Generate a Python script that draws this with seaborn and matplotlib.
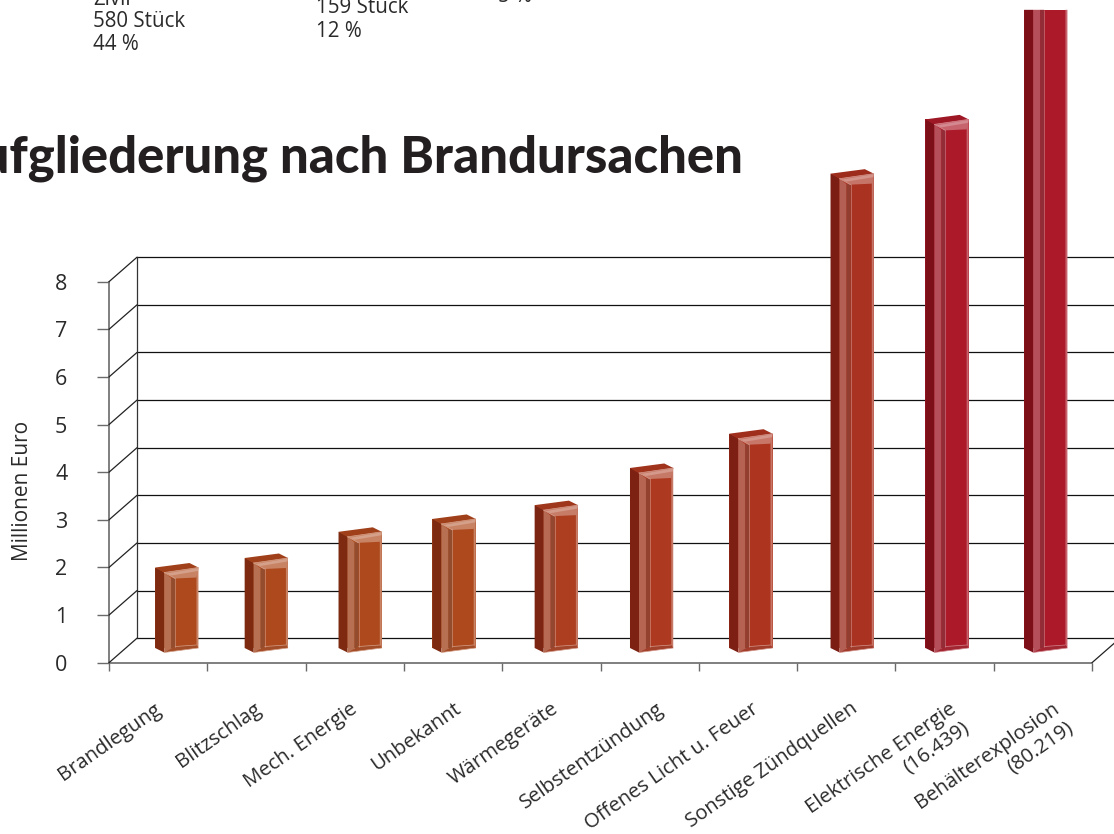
# -*- coding: utf-8 -*-
"""Schaeden nach Brandursachen: Saeulen mit 3D-Optik, Grundlage ist sns.barplot."""

import matplotlib

matplotlib.use("Agg")

import matplotlib.pyplot as plt
import numpy as np
import seaborn as sns
from matplotlib.colors import to_rgb
from matplotlib.lines import Line2D
from matplotlib.patches import Polygon
from matplotlib.transforms import IdentityTransform

# Daten
categories = [
    "Brandlegung",
    "Blitzschlag",
    "Mech. Energie",
    "Unbekannt",
    "Wärmegeräte",
    "Selbstentzündung",
    "Offenes Licht u. Feuer",
    "Sonstige Zündquellen",
    "Elektrische Energie\n(16.439)",
    "Behälterexplosion\n(80.219)",
]
schaden = [1.69, 1.89, 2.44, 2.71, 3.0, 3.78, 4.5, 9.96, 11.1, 13.4]
y_ticks = [0, 1, 2, 3, 4, 5, 6, 7, 8]
bar_colors = [
    "#AE491D", "#AE491D", "#AE491D", "#AE491D", "#AD3F20",
    "#AD3A20", "#AD3520", "#AA3220", "#AC1A29", "#AC1A29",
]
# Saeulen stehen im Original nicht genau mittig (Kategorie-Einheiten)
bar_shift = [0.19, 0.10, 0.055, 0.01, 0.05, 0.02, 0.03, 0.06, 0.025, 0.03]
label_shift = [-0.05, -0.03, -0.05, 0.0, -0.01, 0.07, 0.03, 0.04, 0.04, 0.09]

W, H = 1114, 834
DEPTH_X, DEPTH_Y = 28, 24.5
FONT = ["Open Sans", "DejaVu Sans"]
TEXT = "#2b2a2b"
AXIS = "#6a6a6a"


def mix(col, other, t):
    a, b = np.array(to_rgb(col)), np.array(to_rgb(other))
    return tuple(a * (1 - t) + b * t)


def px_axes(fig, left, base, width, height):
    """Axes aus Pixelangaben (Ursprung oben links im Bild)."""
    return fig.add_axes([left / W, (H - base) / H, width / W, height / H])


def poly(ax, pts, color, z=3):
    ax.add_patch(
        Polygon(
            [(x, H - y) for x, y in pts],
            closed=True,
            facecolor=color,
            edgecolor="none",
            transform=IdentityTransform(),
            clip_on=False,
            zorder=z,
        )
    )


def edge(ax, a, b, color, lw=0.6):
    ax.add_line(
        Line2D(
            [a[0], b[0]],
            [H - a[1], H - b[1]],
            color=color,
            lw=lw,
            transform=IdentityTransform(),
            clip_on=False,
            zorder=4,
        )
    )


def dress_bar(ax, patch, col, cut_top=False):
    """Seitenflaeche, Fase und Deckel um das Rechteck der Saeule legen."""
    (x0, y0), (x1, y1) = ax.transData.transform(
        [(patch.get_x(), 0), (patch.get_x() + patch.get_width(), patch.get_height())]
    )
    base, top = H - y0, H - y1
    xs = x0 + 9  # Kante dunkle Seite / Fase
    xf = x0 + 20  # Kante Fase / Front
    xr = x1 - 2

    dark = mix(col, "#3a0000", 0.42)
    roof = mix(col, "#3a0000", 0.12)
    bevel = mix(mix(col, "#ffffff", 0.2), "#808080", 0.12)
    bevel2 = mix(col, "#555555", 0.3)
    light = mix(col, "#ffffff", 0.32)
    cap = mix(col, "#ffffff", 0.32)
    cap2 = mix(col, "#ffffff", 0.48)
    line = mix(col, "#ffffff", 0.48)
    foot = mix(col, "#666666", 0.15)

    side_top = top if cut_top else top + 5
    front_top = top if cut_top else top + 10.5
    poly(ax, [(x0, top), (xs, side_top), (xs, base + 4.5), (x0, base)], dark)
    poly(ax, [(xs, side_top), (xf - 4, front_top), (xf - 4, base + 2), (xs, base + 4.5)], bevel)
    poly(ax, [(xf - 4, front_top), (xf, front_top), (xf, base), (xf - 4, base + 2)], bevel2)
    poly(ax, [(xr, top), (x1, top), (x1, base), (xr, base - 3)], light)
    edge(ax, (xf, front_top), (xf, base - 1), line, 0.4)
    poly(ax, [(xs, base + 4.5), (x1, base), (xr, base - 3), (xf, base - 1.5)], foot)
    edge(ax, (xf, base - 1.5), (xr, base - 3), line, 0.5)
    edge(ax, (xs, base + 4.5), (x1, base), line, 0.5)

    if cut_top:
        return
    poly(ax, [(x0, top), (x1 - 9, top - 4.5), (x1, top), (xs, top + 5)], roof)
    poly(ax, [(xs, top + 5), (x1, top), (xr, top + 10), (xf, top + 11)], cap)
    poly(ax, [(xs + 2, top + 6), (x1, top + 0.5), (x1 - 0.5, top + 3.5), (xs + 7, top + 8)], cap2)
    edge(ax, (xs, top + 5), (xf, top + 11), line)
    edge(ax, (xs, top + 5), (x1, top), line, 0.5)


sns.set_theme(style="white")
plt.rcParams["font.family"] = FONT

fig = plt.figure(figsize=(W / 100, H / 100), dpi=100, facecolor="white")

# Rueckwand mit Gitterlinien
back = px_axes(fig, 109 + DEPTH_X, 662.7 - DEPTH_Y, 983, 381)
back.set_xlim(-0.5, 9.5)
back.set_ylim(0, 8)
back.set_yticks(y_ticks)
back.set_xticks([])
back.tick_params(axis="y", length=0, labelleft=False)
back.grid(True, axis="y", color="#111111", lw=0.9)
for gl in back.get_ygridlines():
    gl.set_clip_on(False)
sns.despine(ax=back, top=True, right=True, bottom=True, left=False)
back.spines["left"].set(color="#333333", lw=0.9)
back.patch.set_alpha(0)

# Vordere Achsen
front = px_axes(fig, 109, 662.7, 983, 381)
front.patch.set_alpha(0)
front.set_xlim(-0.5, 9.5)
front.set_ylim(0, 8)
front.set_yticks(y_ticks)
front.set_xticks(np.arange(-0.5, 10))
front.set_xticklabels([])
front.tick_params(axis="x", which="major", length=6, width=1, color=AXIS, bottom=True)
front.tick_params(axis="y", length=9, width=1, color=AXIS, pad=21, left=True, labelsize=15.5, labelcolor=TEXT)
front.set_xticks(np.arange(10) + np.array(label_shift), categories, minor=True)
front.tick_params(axis="x", which="minor", length=0, pad=26, bottom=False)
for lab in front.get_xticklabels(minor=True):
    lab.set(
        rotation=35,
        ha="right",
        va="top",
        rotation_mode="anchor",
        multialignment="right",
        fontsize=14.6,
        color=TEXT,
    )
front.set_ylabel("Millionen Euro", fontsize=15, color=TEXT, labelpad=0)
front.yaxis.set_label_coords(-76 / 983, 0.45)
sns.despine(ax=front, top=True, right=True)
for side in ("left", "bottom"):
    front.spines[side].set(color=AXIS, lw=1.2)

# Diagonalen zwischen vorderer Achse und Rueckwand
x_left = front.transData.transform((-0.5, 0))[0]
x_right = front.transData.transform((9.5, 0))[0]
for t in y_ticks:
    yy = front.transData.transform((0, t))[1]
    fig.add_artist(
        Line2D(
            [x_left, x_left + DEPTH_X],
            [yy, yy + DEPTH_Y],
            color="#222222",
            lw=0.9,
            transform=IdentityTransform(),
        )
    )
yy = front.transData.transform((0, 0))[1]
fig.add_artist(
    Line2D(
        [x_right, x_right + DEPTH_X],
        [yy, yy + DEPTH_Y],
        color="#222222",
        lw=0.9,
        transform=IdentityTransform(),
    )
)

# Saeulen: eigene Axes, Grundlinie etwas oberhalb der vorderen Achse
bars = px_axes(fig, 109, 648, 983, 381)
bars.patch.set_alpha(0)
sns.barplot(
    x=categories,
    y=schaden,
    hue=categories,
    palette=bar_colors,
    legend=False,
    width=0.44,
    saturation=1,
    ax=bars,
)
bars.set_xlim(-0.5, 9.5)
bars.set_ylim(0, 8)
bars.axis("off")
for i, p in enumerate(bars.patches):
    p.set_x(p.get_x() + bar_shift[i])
    p.set_clip_on(False)
    p.set_edgecolor("none")
    p.set_zorder(2)
fig.canvas.draw()
for i, p in enumerate(bars.patches):
    dress_bar(bars, p, bar_colors[i], cut_top=schaden[i] > 13)

# Titel und angeschnittener Kopfblock
fig.text(
    743 / W,
    (H - 172) / H,
    "Aufgliederung nach Brandursachen",
    ha="right",
    va="baseline",
    fontsize=36.5,
    fontweight="black",
    family=["Lato", "Open Sans", "DejaVu Sans"],
    color="#231f20",
)
head = [
    (93, 5, "Zivil"),
    (93, 27, "580 Stück"),
    (93, 50, "44 %"),
    (316, 13, "159 Stück"),
    (316, 37, "12 %"),
    (498, 2, "5 %"),
]
for hx, hy, txt in head:
    fig.text(hx / W, (H - hy) / H, txt, ha="left", va="baseline", fontsize=14.8, color=TEXT)

fig.savefig("out.png", dpi=100, facecolor="white")
